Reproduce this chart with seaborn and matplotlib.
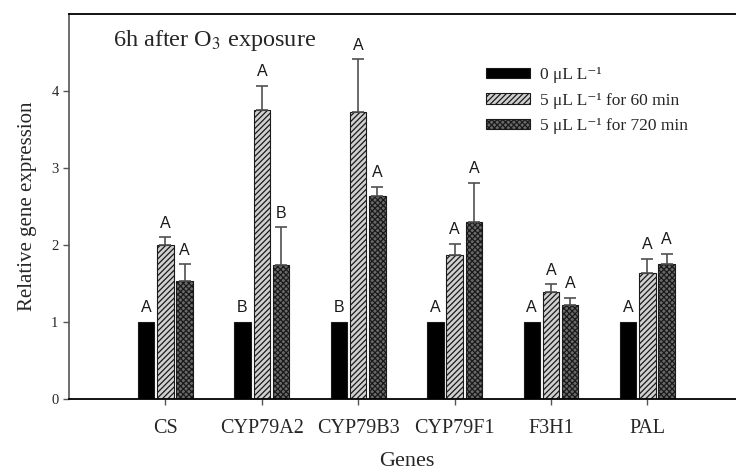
import matplotlib
matplotlib.use("Agg")
import matplotlib.pyplot as plt
from matplotlib.patches import Patch
import seaborn as sns
import pandas as pd
import numpy as np

genes = ["CS", "CYP79A2", "CYP79B3", "CYP79F1", "F3H1", "PAL"]
treatments = ["0 \u03bcL L\u207b\u00b9", "5 \u03bcL L\u207b\u00b9 for 60 min", "5 \u03bcL L\u207b\u00b9 for 720 min"]
ctrl = [1.0, 1.0, 1.0, 1.0, 1.0, 1.0]
t60 = [2.00, 3.75, 3.73, 1.87, 1.39, 1.64]
t720 = [1.54, 1.74, 2.64, 2.30, 1.22, 1.75]
ctrl_err = [0.0, 0.0, 0.0, 0.0, 0.0, 0.0]
t60_err = [0.10, 0.32, 0.68, 0.15, 0.10, 0.18]
t720_err = [0.21, 0.49, 0.12, 0.51, 0.10, 0.13]
letters_ctrl = ["A", "B", "B", "A", "A", "A"]
letters_60 = ["A", "A", "A", "A", "A", "A"]
letters_720 = ["A", "B", "A", "A", "A", "A"]

rows = []
for vals, errs, labs, t in [(ctrl, ctrl_err, letters_ctrl, treatments[0]),
                            (t60, t60_err, letters_60, treatments[1]),
                            (t720, t720_err, letters_720, treatments[2])]:
    for g, v, e, l in zip(genes, vals, errs, labs):
        rows.append(dict(gene=g, value=v, err=e, letter=l, treatment=t))
df = pd.DataFrame(rows)

sns.set_style("ticks")
plt.rcParams["font.family"] = ["Liberation Serif", "DejaVu Serif"]
plt.rcParams["mathtext.fontset"] = "stix"
plt.rcParams["hatch.linewidth"] = 0.9

fig = plt.figure(figsize=(7.36, 4.75), dpi=100)
ax = fig.add_axes([69/736, 75.7/475, 674.8/736, 385.3/475])

fills = ["#000000", "#d0d0d0", "#6a6a6a"]
hatches = [None, "//////", "xxxxxx"]
sns.barplot(data=df, x="gene", y="value", hue="treatment", order=genes,
            hue_order=treatments, palette=fills, width=0.6, gap=0.15,
            errorbar=None, edgecolor="#1a1a1a", linewidth=0.8, ax=ax, legend=False)

for ci, (cont, t) in enumerate(zip(ax.containers, treatments)):
    sub = df[df.treatment == t].set_index("gene").loc[genes]
    xs = [p.get_x() + p.get_width()/2 for p in cont.patches]
    for p in cont.patches:
        if hatches[ci]:
            p.set_hatch(hatches[ci])
    tops = sub["value"].values + sub["err"].values
    if ci > 0:
        ax.errorbar(xs, sub["value"].values, yerr=[np.zeros(len(xs)), sub["err"].values],
                    fmt="none", ecolor="#505050", elinewidth=1.2, capsize=4.3,
                    capthick=1.2, zorder=1)
    for x, top, l in zip(xs, tops, sub["letter"].values):
        ax.text(x, top + 0.09, l, ha="center", va="bottom", fontsize=11.5,
                family=["Liberation Sans", "DejaVu Sans"], color="#1a1a1a")

ax.set_xlim(-1, 6)
ax.set_ylim(0, 5)
ax.set_yticks([0, 1, 2, 3, 4])
ax.tick_params(axis="y", labelsize=10.5, length=4, width=1, color="#555555", direction="out")
ax.tick_params(axis="x", labelsize=14.5, length=4, width=1, color="#555555", direction="out", pad=10)
ax.set_xlabel("Genes", fontsize=16, labelpad=10)
ax.set_ylabel("Relative gene expression", fontsize=15, labelpad=10)

for s in ["top", "bottom"]:
    ax.spines[s].set_visible(True)
    ax.spines[s].set_color("black")
    ax.spines[s].set_linewidth(1.3)
ax.spines["left"].set_color("#555555")
ax.spines["left"].set_linewidth(1.2)
ax.spines["right"].set_visible(False)

ax.text(0.0648, 0.917, "6h after O$_3$ exposure", transform=ax.transAxes,
        fontsize=17.5, ha="left", va="baseline")

handles = [Patch(facecolor=fills[i], edgecolor="#1a1a1a", hatch=hatches[i], linewidth=0.8)
           for i in range(3)]
ax.legend(handles, treatments, loc="upper left", bbox_to_anchor=(0.618, 0.862),
          frameon=False, fontsize=12.5, handlelength=2.55, handleheight=0.55,
          labelspacing=0.55, handletextpad=0.55, borderaxespad=0, borderpad=0)

fig.savefig("out.png", dpi=100)
